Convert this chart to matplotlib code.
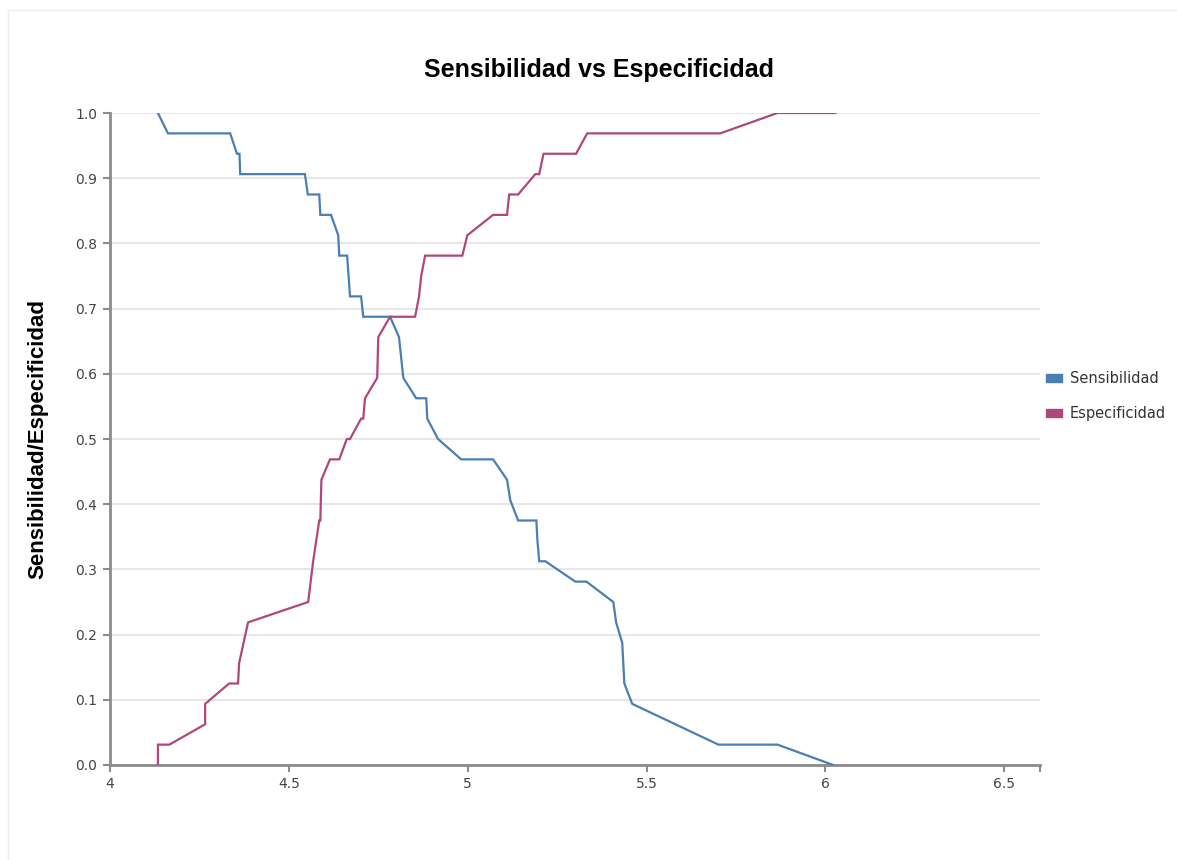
import matplotlib.pyplot as plt
from matplotlib.patches import Patch
from matplotlib.lines import Line2D

sens_x = [4.134, 4.162, 4.336, 4.355, 4.362, 4.364, 4.545, 4.553, 4.585, 4.588,
          4.618, 4.638, 4.641, 4.663, 4.671, 4.702, 4.708, 4.783, 4.808, 4.82,
          4.856, 4.884, 4.887, 4.917, 4.982, 5.071, 5.110, 5.119, 5.141, 5.192,
          5.195, 5.2, 5.217, 5.301, 5.332, 5.407, 5.415, 5.432, 5.435, 5.438,
          5.460, 5.701, 5.866, 6.022]
sens_y = [1.0, 0.96875, 0.96875, 0.9375, 0.9375, 0.90625, 0.90625, 0.875, 0.875, 0.84375,
          0.84375, 0.8125, 0.78125, 0.78125, 0.71875, 0.71875, 0.6875, 0.6875, 0.65625, 0.59375,
          0.5625, 0.5625, 0.53125, 0.5, 0.46875, 0.46875, 0.4375, 0.40625, 0.375, 0.375,
          0.34375, 0.3125, 0.3125, 0.28125, 0.28125, 0.25, 0.21875, 0.1875, 0.15625, 0.125,
          0.09375, 0.03125, 0.03125, 0.0]

spec_x = [4.134, 4.134, 4.166, 4.266, 4.266, 4.333, 4.358, 4.361, 4.386, 4.554,
          4.568, 4.585, 4.588, 4.591, 4.615, 4.641, 4.662, 4.671, 4.702, 4.708,
          4.713, 4.747, 4.750, 4.783, 4.853, 4.864, 4.870, 4.881, 4.985, 4.999,
          5.071, 5.110, 5.116, 5.141, 5.189, 5.2, 5.212, 5.303, 5.334, 5.706,
          5.866, 6.028]
spec_y = [0.0, 0.03125, 0.03125, 0.0625, 0.09375, 0.125, 0.125, 0.15625, 0.21875, 0.25,
          0.3125, 0.375, 0.375, 0.4375, 0.46875, 0.46875, 0.5, 0.5, 0.53125, 0.53125,
          0.5625, 0.59375, 0.65625, 0.6875, 0.6875, 0.71875, 0.75, 0.78125, 0.78125, 0.8125,
          0.84375, 0.84375, 0.875, 0.875, 0.90625, 0.90625, 0.9375, 0.9375, 0.96875, 0.96875,
          1.0, 1.0]

x_ticks = [4, 4.5, 5, 5.5, 6, 6.5]
x_tick_labels = ["4", "4.5", "5", "5.5", "6", "6.5"]
y_ticks = [0.0, 0.1, 0.2, 0.3, 0.4, 0.5, 0.6, 0.7, 0.8, 0.9, 1.0]

blue = "#4a7fb3"
pink = "#b0477c"
axis_gray = "#8c8c8c"

plt.rcParams["font.family"] = ["DejaVu Sans"]
head_font = ["Liberation Sans", "DejaVu Sans"]

W, H = 1177, 860
fig = plt.figure(figsize=(W / 100, H / 100), dpi=100)
ax = fig.add_axes([110 / W, 1 - 765 / H, 930 / W, 652 / H])

ax.plot(sens_x, sens_y, color=blue, lw=1.6, solid_joinstyle="miter", zorder=3)
ax.plot(spec_x, spec_y, color=pink, lw=1.6, solid_joinstyle="miter", zorder=3)

ax.set_xlim(4, 6.6)
ax.set_ylim(0, 1.0)
ax.set_xticks(x_ticks)
ax.set_xticklabels(x_tick_labels)
ax.set_xticks([6.6], minor=True)
ax.set_yticks(y_ticks)
ax.set_yticklabels([f"{v:.1f}" for v in y_ticks])

ax.grid(axis="y", color="#e3e3e3", lw=1.2, zorder=0)
ax.set_axisbelow(True)

for side in ["top", "right"]:
    ax.spines[side].set_visible(False)
for side in ["left", "bottom"]:
    ax.spines[side].set_color(axis_gray)
    ax.spines[side].set_linewidth(2)

ax.tick_params(axis="both", which="both", direction="out", length=5,
               width=1.5, color=axis_gray, labelsize=10, labelcolor="#444444", pad=4)
ax.tick_params(axis="x", which="minor", length=5)

fig.text(599 / W, 1 - 70 / H, "Sensibilidad vs Especificidad", ha="center",
         va="center", fontsize=18, fontweight="bold", color="#000000", family=head_font)
fig.text(38 / W, 1 - 439 / H, "Sensibilidad/Especificidad", ha="center",
         va="center", rotation=90, fontsize=16, fontweight="bold", color="#000000",
         family=head_font)

handles = [Patch(facecolor=blue, edgecolor=blue, label="Sensibilidad"),
           Patch(facecolor=pink, edgecolor=pink, label="Especificidad")]
fig.legend(handles=handles, loc="upper left", bbox_to_anchor=(1046 / W, 1 - 371 / H),
           frameon=False, borderpad=0, borderaxespad=0, fontsize=10.5,
           handlelength=1.1, handleheight=0.5, handletextpad=0.55,
           labelspacing=1.4, labelcolor="#333333")

# light card border
fig.add_artist(Line2D([8 / W, 8 / W], [0, 1 - 10 / H], color="#eeeeee", lw=1,
                      transform=fig.transFigure))
fig.add_artist(Line2D([8 / W, 1], [1 - 10 / H, 1 - 10 / H], color="#eeeeee", lw=1,
                      transform=fig.transFigure))

fig.savefig("out.png", dpi=100, facecolor="white")
